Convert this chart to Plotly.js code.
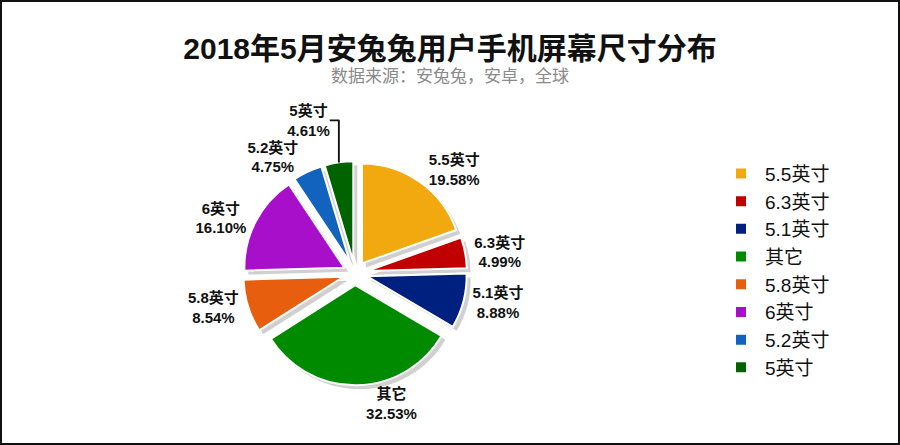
<!DOCTYPE html>
<html>
<head>
<meta charset="utf-8">
<script src="https://cdn.plot.ly/plotly-3.0.1.min.js"></script>
<style>
body { margin: 0; background: #fff; }
#screen_size_pie { width: 900px; height: 445px; box-sizing: border-box; border: 2px solid #111; }
</style>
</head>
<body>
<div id="screen_size_pie"></div>
<script>
// 尺寸分类和占比 (%)
var size_labels = ['5.5英寸', '6.3英寸', '5.1英寸', '其它', '5.8英寸', '6英寸', '5.2英寸', '5英寸']
var size_share = [19.58, 4.99, 8.88, 32.53, 8.54, 16.10, 4.75, 4.61]
var size_colors = ['#f2a90f', '#c00000', '#002080', '#008a00', '#e85e0f', '#a70fcb', '#1263bd', '#006300']

function load_size_pie() {
    var font_family = 'Liberation Sans, Arial, Noto Sans CJK SC, sans-serif'
    var pull_list = size_share.map(function () { return 0.12 })

    // gray copy a few pixels lower right, acts as drop shadow
    var shadow = {
        type: 'pie',
        values: size_share,
        labels: size_labels,
        sort: false,
        direction: 'clockwise',
        rotation: 0,
        pull: pull_list,
        showlegend: false,
        textinfo: 'none',
        hoverinfo: 'skip',
        marker: {
            colors: size_share.map(function () { return '#d0d0d0' }),
            line: {color: '#ffffff', width: 0}
        },
        domain: {x: [0.2734, 0.5234], y: [0.122, 0.630]}
    }

    var trace1 = {
        type: 'pie',
        values: size_share,
        labels: size_labels,
        sort: false,
        direction: 'clockwise',
        rotation: 0,
        pull: pull_list,
        textposition: 'outside',
        texttemplate: '<b>%{label}<br>%{value:.2f}%</b>',
        outsidetextfont: {family: font_family, size: 15, color: '#111'},
        hovertemplate: '<b>%{label}</b><br>%{value:.2f}%<extra></extra>',
        marker: {
            colors: size_colors,
            line: {color: '#ffffff', width: 2}
        },
        domain: {x: [0.269, 0.519], y: [0.131, 0.639]}
    }

    var layout = {
        width: 896,
        height: 441,
        margin: {t: 0, l: 0, r: 0, b: 0, pad: 0},
        paper_bgcolor: '#ffffff',
        plot_bgcolor: '#ffffff',
        font: {family: font_family, color: '#111'},
        title: {
            text: '<b>2018年5月安兔兔用户手机屏幕尺寸分布</b>',
            font: {family: font_family, size: 30, color: '#111'},
            x: 0.5,
            xanchor: 'center',
            y: 0.895,
            yanchor: 'middle',
        },
        annotations: [{
            text: '数据来源：安兔兔，安卓，全球',
            font: {family: font_family, size: 17, color: '#8a8a8a'},
            xref: 'paper',
            yref: 'paper',
            x: 0.5,
            y: 0.832,
            xanchor: 'center',
            yanchor: 'middle',
            showarrow: false,
        }],
        legend: {
            x: 0.798,
            xanchor: 'left',
            y: 0.654,
            yanchor: 'top',
            itemwidth: 38,
            font: {family: font_family, size: 19, color: '#111'},
            itemclick: false,
            itemdoubleclick: false,
        },
    }

    Plotly.newPlot('screen_size_pie', [shadow, trace1], layout, {displayModeBar: false, staticPlot: true})
}

load_size_pie()
</script>
</body>
</html>
